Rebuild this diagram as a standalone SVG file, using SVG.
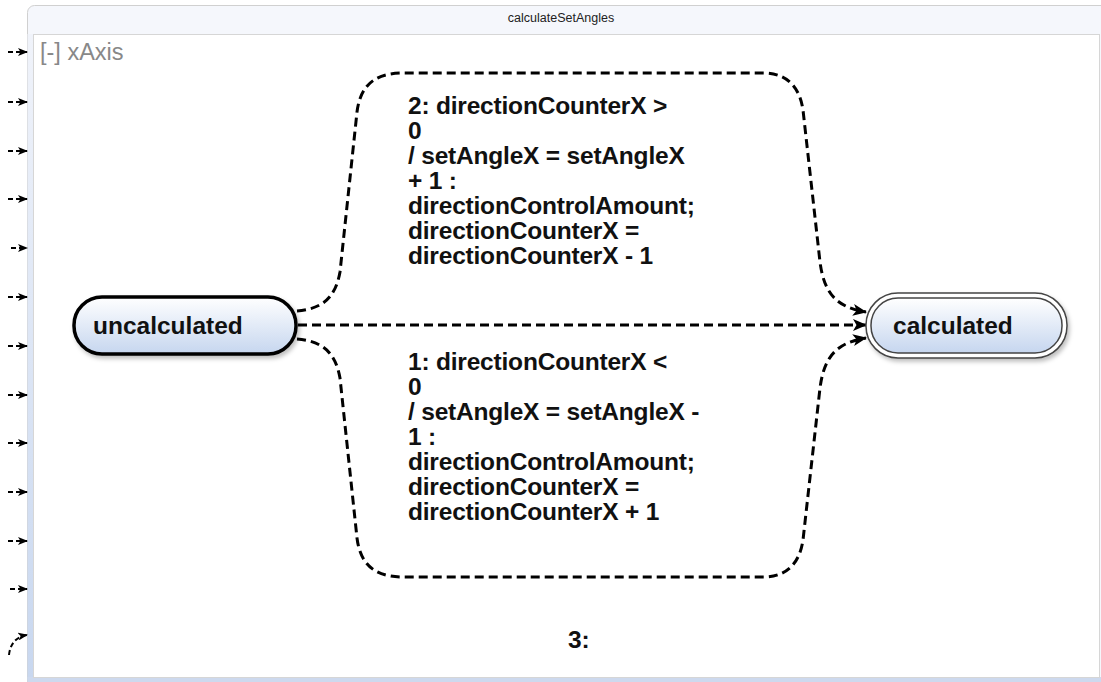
<svg xmlns="http://www.w3.org/2000/svg" width="1101" height="682" viewBox="0 0 1101 682">
<style>
.lbl{font-family:"Liberation Sans",Arial,sans-serif;font-weight:bold;font-size:24.5px;fill:#111;letter-spacing:-0.2px}
.node{font-family:"Liberation Sans",Arial,sans-serif;font-weight:bold;font-size:24.5px;fill:#111}
.conn{fill:none;stroke:#000;stroke-width:3;stroke-dasharray:9 5}
.stub{fill:none;stroke:#000;stroke-width:2;stroke-dasharray:5 3}
</style>
<defs>
<linearGradient id="ng" x1="0" y1="0" x2="0" y2="1">
<stop offset="0" stop-color="#ffffff"/>
<stop offset="1" stop-color="#c6d6ef"/>
</linearGradient>
<linearGradient id="lg" x1="0" y1="0" x2="0" y2="1">
<stop offset="0" stop-color="#f0f3fa"/>
<stop offset="1" stop-color="#c8d7ef"/>
</linearGradient>
<marker id="ah" markerWidth="14" markerHeight="12" refX="13" refY="6" orient="auto" markerUnits="userSpaceOnUse">
<path d="M0,0 L14,6 L0,12 L3.5,6 Z" fill="#000"/>
</marker>
<marker id="sah" markerWidth="10" markerHeight="8" refX="9" refY="4" orient="auto" markerUnits="userSpaceOnUse">
<path d="M0,0 L10,4 L0,8 L2.5,4 Z" fill="#000"/>
</marker>
<filter id="sh" x="-10%" y="-20%" width="130%" height="160%">
<feDropShadow dx="2" dy="3" stdDeviation="2" flood-color="#000" flood-opacity="0.25"/>
</filter>
</defs>
<rect width="1101" height="682" fill="#fff"/>
<g id="panel">
<rect x="27.5" y="5.5" width="1090" height="690" rx="7" fill="#f5f7fc" stroke="#d0d0d0"/>
<rect x="27.5" y="34" width="6" height="646" fill="url(#lg)"/>
<rect x="27.5" y="677" width="1080" height="5" fill="#cdd9ee"/>
<rect x="33.5" y="34.5" width="1066" height="643" fill="#fff" stroke="#d6d6d6"/>
<text x="561" y="22" text-anchor="middle" font-family="'Liberation Sans',Arial,sans-serif" font-size="12.5" fill="#222">calculateSetAngles</text>
<text x="40" y="60" font-family="'Liberation Sans',Arial,sans-serif" font-size="23.5" fill="#888">[-] xAxis</text>
</g>
<g id="stubs">
<path class="stub" marker-end="url(#sah)" d="M8 52 H27"/>
<path class="stub" marker-end="url(#sah)" d="M8 102 H27"/>
<path class="stub" marker-end="url(#sah)" d="M8 151 H27"/>
<path class="stub" marker-end="url(#sah)" d="M8 199 H27"/>
<path class="stub" marker-end="url(#sah)" d="M11 248 H27"/>
<path class="stub" marker-end="url(#sah)" d="M8 297 H27"/>
<path class="stub" marker-end="url(#sah)" d="M8 346 H27"/>
<path class="stub" marker-end="url(#sah)" d="M8 395 H27"/>
<path class="stub" marker-end="url(#sah)" d="M8 443 H27"/>
<path class="stub" marker-end="url(#sah)" d="M8 492 H27"/>
<path class="stub" marker-end="url(#sah)" d="M8 541 H27"/>
<path class="stub" marker-end="url(#sah)" d="M10 589 H27"/>
<path class="stub" marker-end="url(#sah)" d="M9 655 C10 645, 15 637, 27 635"/>
</g>
<g id="connectors">
<path class="conn" marker-end="url(#ah)" d="M297 311 C320 309, 335 300, 340 272 L357 112 C360 88, 372 74, 400 73 L765 73 C790 74, 800 90, 803 110 L820 262 C824 292, 835 307, 866 312"/>
<path class="conn" marker-end="url(#ah)" d="M298 325 L866 325"/>
<path class="conn" marker-end="url(#ah)" d="M297 339 C320 341, 335 350, 340 378 L357 538 C360 562, 372 576, 400 577 L765 577 C790 576, 800 560, 803 540 L820 388 C824 358, 835 343, 866 338"/>
</g>
<g id="label-2" class="lbl">
<text x="408" y="114">2: directionCounterX &gt;</text>
<text x="408" y="139">0</text>
<text x="408" y="164">/ setAngleX = setAngleX</text>
<text x="408" y="189">+ 1 :</text>
<text x="408" y="214">directionControlAmount;</text>
<text x="408" y="239">directionCounterX =</text>
<text x="408" y="264">directionCounterX - 1</text>
</g>
<g id="label-1" class="lbl">
<text x="408" y="370">1: directionCounterX &lt;</text>
<text x="408" y="395">0</text>
<text x="408" y="420">/ setAngleX = setAngleX -</text>
<text x="408" y="445">1 :</text>
<text x="408" y="470">directionControlAmount;</text>
<text x="408" y="495">directionCounterX =</text>
<text x="408" y="520">directionCounterX + 1</text>
</g>
<g id="label-3" class="lbl">
<text x="568" y="648">3:</text>
</g>
<g id="uncalculated">
<rect x="74" y="297" width="222" height="57" rx="28" fill="url(#ng)" stroke="#000" stroke-width="3.5" filter="url(#sh)"/>
<text class="node" x="93" y="334">uncalculated</text>
</g>
<g id="calculated">
<rect x="866" y="293" width="201" height="65" rx="32" fill="#fff" stroke="#444" stroke-width="1.5" filter="url(#sh)"/>
<rect x="871" y="298" width="191" height="55" rx="27" fill="url(#ng)" stroke="#444" stroke-width="1.5"/>
<text class="node" x="893" y="334">calculated</text>
</g>
</svg>
